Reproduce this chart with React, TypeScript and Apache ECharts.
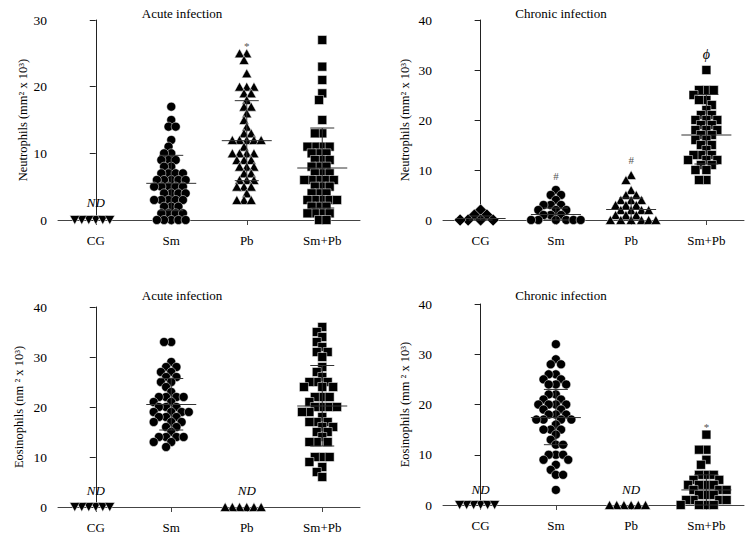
import React, { useEffect, useRef } from 'react';
import * as echarts from 'echarts';

const categories = ['CG', 'Sm', 'Pb', 'Sm+Pb'];

// ---- Neutrophils, acute infection ----
const neuAcuteCG = [0, 0, 0, 0, 0, 0];
const neuAcuteSm = [17, 15, 14, 14, 12, 11, 10, 10, 9, 9, 9, 8, 8, 7, 7, 7, 7, 6, 6, 6, 6, 6, 5, 5, 5, 5, 5, 4, 4, 4, 4, 3, 3, 3, 3, 3, 2, 2, 2, 1, 1, 1, 1, 0, 0, 0, 0, 0];
const neuAcutePb = [25, 25, 24, 22, 20, 20, 20, 19, 19, 18, 17, 17, 16, 15, 14, 13, 13, 12, 12, 12, 12, 12, 11, 10, 10, 10, 10, 9, 9, 9, 8, 8, 8, 7, 7, 6, 6, 6, 5, 5, 5, 4, 3, 3, 3];
const neuAcuteSmPb = [27, 23, 21, 19, 18, 15, 13, 13, 11, 11, 11, 11, 10, 10, 10, 9, 9, 9, 8, 8, 8, 7, 7, 7, 6, 6, 6, 6, 6, 5, 5, 5, 4, 4, 4, 3, 3, 3, 3, 3, 2, 2, 2, 1, 1, 1, 1, 0, 0];
const neuAcuteMean = [null, 5.5, 11.9, 7.8];
const neuAcuteLow = [null, 1.4, 5.9, 1.8];
const neuAcuteHigh = [null, 9.7, 17.9, 13.8];
const neuAcuteNoteCat = [0, 2];
const neuAcuteNoteY = [2.6, 26.1];
const neuAcuteNoteText = ['ND', '*'];

// ---- Neutrophils, chronic infection ----
const neuChronCG = [2, 1, 1, 0, 0, 0, 0];
const neuChronSm = [6, 5, 5, 4, 3, 3, 3, 2, 2, 2, 1, 1, 1, 0, 0, 0, 0, 0, 0];
const neuChronPb = [9, 8, 6, 5, 5, 4, 4, 4, 3, 3, 3, 2, 2, 2, 2, 1, 1, 1, 0, 0, 0, 0, 0, 0];
const neuChronSmPb = [30, 26, 26, 26, 25, 24, 24, 23, 22, 21, 21, 20, 20, 20, 19, 19, 18, 18, 18, 17, 17, 16, 16, 15, 15, 14, 13, 13, 13, 12, 12, 12, 11, 11, 10, 10, 8, 8];
const neuChronMean = [0.3, 1.1, 2.1, 17.0];
const neuChronLow = [0, 0, 0, 11.2];
const neuChronHigh = [0.8, 2.4, 4.4, 25.1];
const neuChronNoteCat = [1, 2, 3];
const neuChronNoteY = [8.9, 12.1, 33.1];
const neuChronNoteText = ['#', '#', 'ϕ'];

// ---- Eosinophils, acute infection ----
const eosAcuteCG = [0, 0, 0, 0, 0, 0];
const eosAcuteSm = [33, 33, 29, 28, 28, 27, 27, 26, 26, 25, 25, 24, 23, 22, 22, 22, 22, 21, 21, 20, 20, 20, 19, 19, 19, 19, 18, 18, 18, 17, 17, 17, 16, 16, 15, 14, 14, 14, 14, 13, 13, 12];
const eosAcutePb = [0, 0, 0, 0, 0, 0];
const eosAcuteSmPb = [36, 35, 34, 33, 32, 31, 31, 30, 28, 27, 26, 25, 25, 25, 24, 24, 24, 22, 22, 22, 21, 20, 20, 20, 20, 19, 19, 18, 17, 17, 17, 16, 16, 15, 15, 14, 13, 13, 13, 10, 10, 10, 9, 8, 7, 6];
const eosAcuteMean = [null, 20.5, null, 20.2];
const eosAcuteLow = [null, 15.4, null, 12.2];
const eosAcuteHigh = [null, 25.7, null, 28.3];
const eosAcuteNoteCat = [0, 2];
const eosAcuteNoteY = [3.3, 3.3];
const eosAcuteNoteText = ['ND', 'ND'];

// ---- Eosinophils, chronic infection ----
const eosChronCG = [0, 0, 0, 0, 0, 0];
const eosChronSm = [32, 29, 28, 28, 26, 26, 25, 25, 24, 24, 24, 22, 22, 21, 21, 20, 20, 20, 20, 19, 19, 18, 18, 18, 17, 17, 17, 17, 16, 15, 15, 15, 14, 13, 12, 12, 10, 10, 10, 9, 9, 8, 7, 6, 6, 3];
const eosChronPb = [0, 0, 0, 0, 0, 0];
const eosChronSmPb = [14, 11, 11, 9, 8, 6, 6, 6, 5, 5, 4, 4, 4, 4, 3, 3, 3, 2, 2, 2, 1, 1, 1, 1, 0, 0, 0, 0];
const eosChronMean = [null, 17.4, null, 3.0];
const eosChronLow = [null, 12.0, null, 0];
const eosChronHigh = [null, 23.0, null, 6.0];
const eosChronNoteCat = [0, 2, 3];
const eosChronNoteY = [3.0, 3.0, 15.5];
const eosChronNoteText = ['ND', 'ND', '*'];

const panels = [
  { title: 'Acute infection', yName: 'Neutrophils (mm² x 10³)', yMax: 30, groups: [neuAcuteCG, neuAcuteSm, neuAcutePb, neuAcuteSmPb], mean: neuAcuteMean, low: neuAcuteLow, high: neuAcuteHigh, noteCat: neuAcuteNoteCat, noteY: neuAcuteNoteY, noteText: neuAcuteNoteText },
  { title: 'Chronic infection', yName: 'Neutrophils (mm² x 10³)', yMax: 40, groups: [neuChronCG, neuChronSm, neuChronPb, neuChronSmPb], mean: neuChronMean, low: neuChronLow, high: neuChronHigh, noteCat: neuChronNoteCat, noteY: neuChronNoteY, noteText: neuChronNoteText },
  { title: 'Acute infection', yName: 'Eosinophils (nm ² x 10³)', yMax: 40, groups: [eosAcuteCG, eosAcuteSm, eosAcutePb, eosAcuteSmPb], mean: eosAcuteMean, low: eosAcuteLow, high: eosAcuteHigh, noteCat: eosAcuteNoteCat, noteY: eosAcuteNoteY, noteText: eosAcuteNoteText },
  { title: 'Chronic infection', yName: 'Eosinophils (mm ² x 10³)', yMax: 40, groups: [eosChronCG, eosChronSm, eosChronPb, eosChronSmPb], mean: eosChronMean, low: eosChronLow, high: eosChronHigh, noteCat: eosChronNoteCat, noteY: eosChronNoteY, noteText: eosChronNoteText },
];

const layout = [
  { left: 58, top: 20, width: 302, height: 200, titleX: 182, titleY: 13, nameGap: 29 },
  { left: 443, top: 20, width: 301, height: 200, titleX: 561, titleY: 13, nameGap: 32 },
  { left: 58, top: 307, width: 302, height: 200, titleX: 182, titleY: 295, nameGap: 33 },
  { left: 443, top: 304, width: 301, height: 201, titleX: 561, titleY: 295, nameGap: 32 },
];

const FONT = "'Liberation Serif', 'Times New Roman', serif";

// Deterministic beeswarm layout (GraphPad-like): each point takes the position nearest
// the category centre at which it does not collide with already-placed points.
function beeswarm(values: number[], cat: number, pxPerUnitX: number, pxPerUnitY: number, minDist: number) {
  const placed: { x: number; y: number }[] = [];
  const r2 = minDist * minDist;
  return values.map((v) => {
    const y = v * pxPerUnitY;
    const cands = [0];
    for (const p of placed) {
      const dy = Math.abs(p.y - y);
      if (dy < minDist) {
        const dx = Math.sqrt(r2 - dy * dy);
        cands.push(p.x + dx, p.x - dx);
      }
    }
    cands.sort((a, b) => Math.abs(a) - Math.abs(b) || a - b);
    let chosen = cands[cands.length - 1];
    for (const c of cands) {
      let ok = true;
      for (const p of placed) {
        if ((p.x - c) * (p.x - c) + (p.y - y) * (p.y - y) < r2 - 1e-6) {
          ok = false;
          break;
        }
      }
      if (ok) {
        chosen = c;
        break;
      }
    }
    placed.push({ x: chosen, y });
    return [cat + chosen / pxPerUnitX, v];
  });
}

function symbolFor(panelIdx: number, cat: number) {
  if (cat === 0) {
    if (panelIdx === 1) return { symbol: 'diamond', symbolSize: [12, 12], symbolRotate: 0, gap: 8 };
    return { symbol: 'triangle', symbolSize: [10, 9], symbolRotate: 180, gap: 7 };
  }
  if (cat === 1) return { symbol: 'circle', symbolSize: 9, symbolRotate: 0, gap: 7.2 };
  if (cat === 2) return { symbol: 'triangle', symbolSize: [10, 9], symbolRotate: 0, gap: 7.2 };
  return { symbol: 'rect', symbolSize: 9, symbolRotate: 0, gap: 7.4 };
}

function buildOption() {
  const grid: any[] = [];
  const xAxis: any[] = [];
  const yAxis: any[] = [];
  const series: any[] = [];
  const graphic: any[] = [];

  panels.forEach((p, i) => {
    const l = layout[i];
    grid.push({ left: l.left, top: l.top, width: l.width, height: l.height, containLabel: false });
    xAxis.push({
      type: 'category',
      gridIndex: i,
      data: categories,
      position: 'bottom',
      axisLine: { show: true, onZero: false, lineStyle: { color: '#444', width: 1 } },
      axisTick: { show: true, alignWithLabel: true, length: 5, lineStyle: { color: '#444' } },
      axisLabel: { color: '#000', fontSize: 13, fontFamily: FONT, margin: 14 },
      splitLine: { show: false },
    });
    xAxis.push({ type: 'value', gridIndex: i, min: -0.5, max: 3.5, show: false });
    yAxis.push({
      type: 'value',
      gridIndex: i,
      min: 0,
      max: p.yMax,
      interval: 10,
      name: p.yName,
      nameLocation: 'middle',
      nameGap: l.nameGap,
      nameTextStyle: { color: '#000', fontSize: 12.5, fontFamily: FONT },
      axisLine: { show: true, lineStyle: { color: '#222', width: 1 } },
      axisTick: { show: true, length: 6, lineStyle: { color: '#222' } },
      axisLabel: { color: '#000', fontSize: 13.5, fontFamily: FONT, margin: 11 },
      splitLine: { show: false },
    });
    const pxPerUnitX = l.width / 4;
    const pxPerUnitY = l.height / p.yMax;
    p.groups.forEach((vals, c) => {
      const s = symbolFor(i, c);
      series.push({
        type: 'scatter',
        xAxisIndex: 2 * i + 1,
        yAxisIndex: i,
        data: beeswarm(vals, c, pxPerUnitX, pxPerUnitY, s.gap),
        symbol: s.symbol,
        symbolSize: s.symbolSize,
        symbolRotate: s.symbolRotate,
        itemStyle: { color: '#000', borderColor: '#fff', borderWidth: 0.5, opacity: 1 },
        clip: false,
        silent: true,
        z: 2,
      });
    });
    const statData: number[][] = [];
    p.mean.forEach((m, c) => {
      if (m !== null) statData.push([c, m as number, p.low[c] as number, p.high[c] as number]);
    });
    series.push({
      type: 'custom',
      xAxisIndex: 2 * i + 1,
      yAxisIndex: i,
      data: statData,
      encode: { x: 0, y: 1 },
      clip: false,
      silent: true,
      z: 3,
      renderItem: (_params: any, api: any) => {
        const c = api.value(0);
        const pm = api.coord([c, api.value(1)]);
        const pl = api.coord([c, api.value(2)]);
        const ph = api.coord([c, api.value(3)]);
        const st = { stroke: '#333', lineWidth: 1 };
        return {
          type: 'group',
          children: [
            { type: 'line', shape: { x1: pm[0] - 25, y1: pm[1], x2: pm[0] + 25, y2: pm[1] }, style: st },
            { type: 'line', shape: { x1: pl[0], y1: pl[1], x2: ph[0], y2: ph[1] }, style: st },
            { type: 'line', shape: { x1: ph[0] - 12, y1: ph[1], x2: ph[0] + 12, y2: ph[1] }, style: st },
            { type: 'line', shape: { x1: pl[0] - 12, y1: pl[1], x2: pl[0] + 12, y2: pl[1] }, style: st },
          ],
        };
      },
    });
    const noteData = p.noteCat.map((c, k) => [c, p.noteY[k]]);
    const texts = p.noteText;
    series.push({
      type: 'custom',
      xAxisIndex: 2 * i + 1,
      yAxisIndex: i,
      data: noteData,
      encode: { x: 0, y: 1 },
      clip: false,
      silent: true,
      z: 4,
      renderItem: (params: any, api: any) => {
        const t = texts[params.dataIndex];
        const pt = api.coord([api.value(0), api.value(1)]);
        const isND = t === 'ND';
        const isPhi = t === 'ϕ';
        return {
          type: 'text',
          x: pt[0],
          y: pt[1],
          style: {
            text: t,
            fill: isND || isPhi ? '#000' : '#555',
            fontSize: isND ? 13 : isPhi ? 14 : 11,
            fontFamily: FONT,
            fontStyle: isND || isPhi ? 'italic' : 'normal',
            align: 'center',
            verticalAlign: 'middle',
          },
        };
      },
    });
    graphic.push({
      type: 'text',
      x: l.titleX,
      y: l.titleY,
      style: {
        text: p.title,
        fill: '#000',
        fontSize: 13,
        fontFamily: FONT,
        align: 'center',
        verticalAlign: 'middle',
      },
    });
  });

  return { animation: false, backgroundColor: '#fff', grid, xAxis, yAxis, series, graphic };
}

export default function App() {
  const ref = useRef<HTMLDivElement>(null);
  useEffect(() => {
    if (!ref.current) return;
    const chart = echarts.init(ref.current, undefined, { renderer: 'svg' });
    chart.setOption(buildOption() as any);
    return () => chart.dispose();
  }, []);
  return <div ref={ref} style={{ position: 'absolute', left: 0, top: 0, width: 752, height: 539, background: '#fff' }} />;
}
